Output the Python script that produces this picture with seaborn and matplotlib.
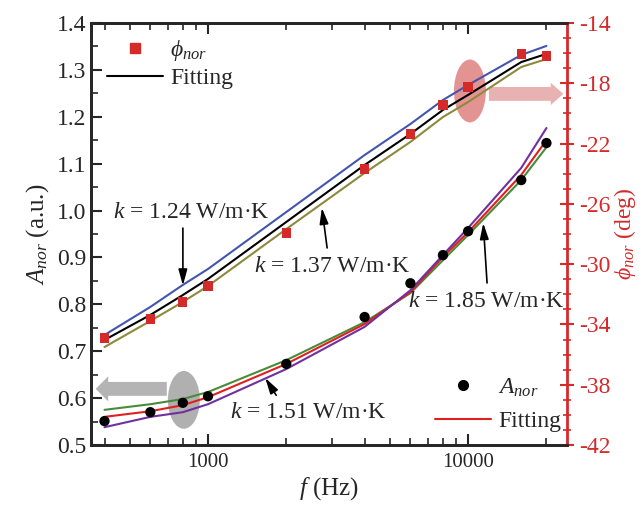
import matplotlib
matplotlib.use('Agg')
import matplotlib.pyplot as plt
import seaborn as sns
from matplotlib.patches import Ellipse, FancyArrowPatch
from matplotlib.ticker import MultipleLocator, LogLocator, NullFormatter

# frequencies (Hz)
freq = [400, 600, 800, 1000, 2000, 4000, 6000, 8000, 10000, 16000, 20000]

# phase, right axis (deg)
phi_meas = [-34.9, -33.64, -32.51, -31.45, -27.93, -23.69, -21.36, -19.44, -18.24, -16.05, -16.19]
phi_fit_124 = [-34.70, -32.84, -31.38, -30.32, -26.54, -22.76, -20.70, -19.11, -18.11, -16.12, -15.52]
phi_fit = [-35.03, -33.37, -32.05, -30.98, -27.20, -23.42, -21.36, -19.77, -18.77, -16.59, -16.05]
phi_fit_137 = [-35.50, -33.77, -32.51, -31.45, -27.67, -23.95, -21.89, -20.24, -19.24, -16.92, -16.39]

# amplitude, left axis (a.u.)
amp_meas = [0.551, 0.570, 0.590, 0.604, 0.673, 0.773, 0.845, 0.905, 0.956, 1.065, 1.144]
amp_fit_185 = [0.575, 0.587, 0.598, 0.613, 0.681, 0.762, 0.824, 0.894, 0.948, 1.065, 1.135]
amp_fit = [0.560, 0.572, 0.585, 0.602, 0.673, 0.758, 0.826, 0.901, 0.954, 1.076, 1.150]
amp_fit_151 = [0.538, 0.560, 0.570, 0.587, 0.662, 0.752, 0.830, 0.905, 0.963, 1.091, 1.176]

sns.set_theme(style='ticks')
plt.rcParams['font.family'] = ['Liberation Serif', 'DejaVu Serif']
plt.rcParams['mathtext.fontset'] = 'custom'
plt.rcParams['mathtext.rm'] = 'Liberation Serif'
plt.rcParams['mathtext.it'] = 'Liberation Serif:italic'
plt.rcParams['axes.unicode_minus'] = False

RED = '#d42a2a'
fig = plt.figure(figsize=(6.41, 5.08), dpi=100)
ax = fig.add_axes([0.142, 0.124, 0.7426, 0.8307])
ax2 = ax.twinx()

# amplitude group (left axis)
sns.lineplot(x=freq, y=amp_fit_185, ax=ax, color='#4a8a3a', lw=1.5, zorder=3)
sns.lineplot(x=freq, y=amp_fit, ax=ax, color='#e02020', lw=1.5, zorder=3)
sns.lineplot(x=freq, y=amp_fit_151, ax=ax, color='#7030a0', lw=1.5, zorder=3)
sns.scatterplot(x=freq, y=amp_meas, ax=ax, color='black', s=55, edgecolor='none', zorder=4)

# phase group (right axis)
sns.lineplot(x=freq, y=phi_fit_124, ax=ax2, color='#4455b0', lw=1.5, zorder=3)
sns.lineplot(x=freq, y=phi_fit, ax=ax2, color='black', lw=1.5, zorder=3)
sns.lineplot(x=freq, y=phi_fit_137, ax=ax2, color='#8d8a3c', lw=1.5, zorder=3)
sns.scatterplot(x=freq, y=phi_meas, ax=ax2, color=RED, marker='s', s=45, edgecolor='none', zorder=4)

ax.set_xscale('log')
ax.set_xlim(355, 24000)
ax.set_ylim(0.5, 1.4)

ax.set_xticks([1000, 10000])
ax.set_xticklabels(['1000', '10000'])
ax.xaxis.set_minor_locator(LogLocator(base=10, subs=range(2, 10)))
ax.xaxis.set_minor_formatter(NullFormatter())
ax.yaxis.set_minor_locator(MultipleLocator(0.05))
ax.set_yticks([0.5, 0.6, 0.7, 0.8, 0.9, 1.0, 1.1, 1.2, 1.3, 1.4])
ax.set_yticklabels(['0.5', '0.6', '0.7', '0.8', '0.9', '1.0', '1.1', '1.2', '1.3', '1.4'])
ax2.set_yticks(list(range(-42, -13, 4)))
ax2.yaxis.set_minor_locator(MultipleLocator(1))
ax2.set_ylim(-42, -14)

ax.tick_params(axis='x', which='both', direction='in', top=True, labelsize=15, width=1.5, pad=6)
ax.tick_params(axis='x', which='major', length=8)
ax.tick_params(axis='x', which='minor', length=5, width=1.2)
ax.tick_params(axis='y', which='both', direction='in', labelsize=17, width=1.5, right=False)
ax.tick_params(axis='y', which='major', length=8)
ax.tick_params(axis='y', which='minor', length=5, width=1.2)
ax2.tick_params(axis='y', which='both', direction='inout', colors=RED, labelsize=17, width=1.5)
ax2.tick_params(axis='y', which='major', length=10)
ax2.tick_params(axis='y', which='minor', length=6, width=1.2)

for s in ['left', 'bottom', 'top']:
    ax.spines[s].set_linewidth(2)
    ax2.spines[s].set_linewidth(2)
ax2.spines['right'].set_linewidth(2)
ax2.spines['right'].set_color(RED)
ax.spines['right'].set_visible(False)

ax.set_xlabel(r'$f$ (Hz)', fontsize=18, labelpad=2)
ax.set_ylabel(r'$A_{nor}$ (a.u.)', fontsize=18, labelpad=4)
ax2.set_ylabel(r'$\phi_{nor}$ (deg)', fontsize=17, color=RED, labelpad=1)

# legends
h_phi = plt.Line2D([], [], color=RED, marker='s', ms=7, ls='none')
h_fit_k = plt.Line2D([], [], color='black', lw=1.5)
leg1 = ax2.legend([h_phi, h_fit_k], [r'$\phi_{nor}$', 'Fitting'], loc='upper left',
                  bbox_to_anchor=(-0.012, 1.015), frameon=False, fontsize=17,
                  handlelength=2.4, handletextpad=0.3, labelspacing=0.2)
h_amp = plt.Line2D([], [], color='black', marker='o', ms=7, ls='none')
h_fit_r = plt.Line2D([], [], color='#e02020', lw=1.5)
leg2 = ax2.legend([h_amp, h_fit_r], [r'$A_{nor}$', 'Fitting'], loc='lower right',
                  bbox_to_anchor=(1.033, -0.02), frameon=False, fontsize=17,
                  handlelength=2.4, handletextpad=0.3, labelspacing=0.5)
ax2.add_artist(leg1)

# highlight ellipses and direction arrows
ax.add_patch(Ellipse((0.195, 0.107), 0.067, 0.137, transform=ax.transAxes,
                     color='#a8a8a8', alpha=0.9, zorder=1, lw=0))
ax.add_patch(FancyArrowPatch((0.165, 0.133), (0.004, 0.133), transform=ax.transAxes,
                             arrowstyle='simple,head_length=0.9,head_width=1.8,tail_width=1.0',
                             mutation_scale=10, color='#b4b4b4', lw=0, zorder=1))
ax2.add_patch(Ellipse((0.796, 0.839), 0.067, 0.149, transform=ax2.transAxes,
                      color='#d65a5a', alpha=0.65, zorder=1, lw=0))
ax2.add_patch(FancyArrowPatch((0.83, 0.832), (0.998, 0.832), transform=ax2.transAxes,
                              arrowstyle='simple,head_length=0.9,head_width=1.6,tail_width=1.0',
                              mutation_scale=10, color='#e9b2b2', lw=0, zorder=1,
                              clip_on=False))

# k annotations
arrow = dict(arrowstyle='-|>,head_length=0.8,head_width=0.22', color='black', lw=1.2,
             shrinkA=0, shrinkB=0)
notes = [
    ('1.24', (0.210, 0.552), (0.193, 0.514), (0.193, 0.378)),
    ('1.37', (0.508, 0.422), (0.496, 0.467), (0.485, 0.562)),
    ('1.51', (0.456, 0.076), (0.389, 0.118), (0.366, 0.159)),
    ('1.85', (0.830, 0.339), (0.832, 0.384), (0.824, 0.526)),
]
for kval, tpos, tail, tip in notes:
    ax.text(tpos[0], tpos[1], r'$k$ = ' + kval + ' W/m·K', transform=ax.transAxes,
            ha='center', va='center', fontsize=17, zorder=5)
    ax.annotate('', xy=tip, xytext=tail, xycoords='axes fraction',
                textcoords='axes fraction', arrowprops=arrow, zorder=5)

fig.savefig('out.png', dpi=100)
